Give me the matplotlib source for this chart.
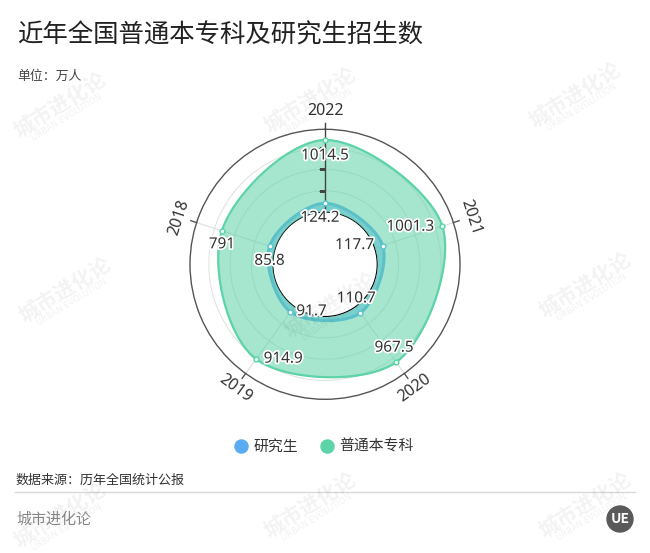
import numpy as np
import matplotlib.pyplot as plt
import matplotlib.patheffects as pe
from matplotlib.lines import Line2D
from matplotlib.patches import Circle

plt.rcParams['font.family'] = ['Noto Sans CJK SC', 'DejaVu Sans']

# 数据：从顶部开始顺时针
years = ['2022', '2021', '2020', '2019', '2018']
grad = [124.2, 117.7, 110.7, 91.7, 85.8]
undergrad = [1014.5, 1001.3, 967.5, 914.9, 791]
series_names = ['研究生', '普通本专科']

blue = '#5aabf0'
green = '#5dd3a8'
rmax = 1165
origin = 734.5          # 内圈空心
label_r = 1418

# 数值标签的偏移（像素）
off_green = [(0, -16), (-32, -1), (-2, 14), (27, 0), (0, -14)]
off_blue = [(-5, -15), (-28, 0), (-4, 14), (21, 0), (0, -15)]


def smooth_closed(theta, r, n=80):
    # 闭合 Catmull-Rom 平滑（在直角坐标里做）
    rd = np.asarray(r, dtype=float) + origin
    pts = np.column_stack([rd * np.cos(theta), rd * np.sin(theta)])
    k = len(pts)
    t = np.linspace(0, 1, n, endpoint=False)[:, None]
    segs = []
    for i in range(k):
        p0, p1, p2, p3 = pts[(i - 1) % k], pts[i], pts[(i + 1) % k], pts[(i + 2) % k]
        segs.append(0.5 * (2 * p1 + (-p0 + p2) * t
                           + (2 * p0 - 5 * p1 + 4 * p2 - p3) * t ** 2
                           + (-p0 + 3 * p1 - 3 * p2 + p3) * t ** 3))
    out = np.vstack(segs + [pts[:1]])
    th = np.unwrap(np.arctan2(out[:, 1], out[:, 0]))
    return th, np.hypot(out[:, 0], out[:, 1]) - origin


fig = plt.figure(figsize=(6.5, 5.53), dpi=100)
ax = fig.add_axes([190 / 650, 153.7 / 553, 270 / 650, 270 / 553], polar=True)
ax.set_theta_zero_location('N')
ax.set_theta_direction(-1)
ax.set_ylim(0, rmax)
ax.set_rorigin(-origin)
ax.set_xticks([])
ax.set_yticks([300, 600, 900])
ax.set_yticklabels([])
ax.tick_params(axis='y', length=0)
ax.grid(False)
ax.spines['polar'].set_color('#555555')
ax.spines['polar'].set_linewidth(1.0)
if 'inner' in ax.spines:
    ax.spines['inner'].set_visible(False)

theta = np.arange(len(years)) * 2 * np.pi / len(years)

# 网格
circ = np.linspace(0, 2 * np.pi, 400)
for g in [300, 600, 900]:
    ax.plot(circ, np.full_like(circ, g), color='#e3e3e3', lw=0.8, zorder=1)
for th in theta[1:]:
    ax.plot([th, th], [0, rmax], color='#dedede', lw=0.8, zorder=1)
    ax.plot([th, th], [rmax, 1250], color='#555555', lw=1, zorder=1, clip_on=False)

# 研究生
th_b, r_b = smooth_closed(theta, grad)
ax.fill_between(th_b, 0, r_b, color=blue, alpha=0.6, lw=0, zorder=2)
ax.plot(th_b, r_b, color=blue, lw=2.2, zorder=2.5)

# 普通本专科
th_g, r_g = smooth_closed(theta, undergrad)
ax.fill_between(th_g, 0, r_g, color=green, alpha=0.55, lw=0, zorder=3)
ax.plot(th_g, r_g, color=green, lw=1.6, zorder=3.5)

ax.plot(theta, grad, ls='', marker='o', ms=3.5, mfc='white', mec='#5cc4cf', mew=1, zorder=8)
ax.plot(theta, undergrad, ls='', marker='o', ms=3.5, mfc='#e6fbf3', mec=green, mew=1, zorder=8)

# 径向轴
ax.plot([0, 0], [0, 1250], color='#444444', lw=1, zorder=5, clip_on=False)
ax.plot([0, 0, 0], [300, 600, 900], ls='', marker=0, ms=4, mew=0.8, color='#444444', zorder=5)

# 年份标签
for i, (th, y) in enumerate(zip(theta, years)):
    rot = ((-np.degrees(th) + 90) % 180) - 90
    ax.text(th, label_r, y, rotation=rot, rotation_mode='anchor', ha='center', va='center',
            fontsize=11.5, color='#333333', family=['Noto Sans', 'DejaVu Sans'], clip_on=False)

halo = [pe.withStroke(linewidth=2.5, foreground='white')]
for vals, offs in [(grad, off_blue), (undergrad, off_green)]:
    for th, v, o in zip(theta, vals, offs):
        ax.annotate(f'{v:g}', (th, v), xytext=o, textcoords='offset pixels', ha='center',
                    va='center', fontsize=11, color='#333333', family=['Noto Sans', 'DejaVu Sans'],
                    path_effects=halo, zorder=10, annotation_clip=False)

# 标题
fig.text(17 / 650, 1 - 35.5 / 553, '近年全国普通本专科及研究生招生数', fontsize=18.3,
         color='#222222', va='center', ha='left')
fig.text(17 / 650, 1 - 76.5 / 553, '单位：万人', fontsize=9.3, color='#444444', va='center')

# 图例
for x, name, c in [(241, series_names[0], blue), (326.7, series_names[1], green)]:
    fig.add_artist(Line2D([x / 650], [1 - 446.3 / 553], marker='o', ms=9.4, color=c,
                          ls='', transform=fig.transFigure))
    fig.text((x + 13) / 650, 1 - 446.3 / 553, name, fontsize=10.7, color='#333333',
             va='center', ha='left')

# 底部
fig.text(16 / 650, 1 - 480 / 553, '数据来源：历年全国统计公报', fontsize=9.4, color='#333333',
         va='center')
fig.add_artist(Line2D([15 / 650, 635 / 650], [1 - 492 / 553] * 2, color='#d9d9d9', lw=1,
                      transform=fig.transFigure))
fig.text(16 / 650, 1 - 519 / 553, '城市进化论', fontsize=10.8, color='#888888', va='center')
fig.add_artist(Circle((6.20, 0.34), 0.13, color='#5a5a5a', transform=fig.dpi_scale_trans))
fig.text(620 / 650, 1 - 519 / 553, 'UE', fontsize=10, color='white', weight='bold',
         ha='center', va='center')

# 水印
wm_pos = [(60, 105), (310, 100), (575, 95), (65, 290), (330, 305), (585, 285),
          (60, 515), (310, 505), (585, 505)]
for x, y in wm_pos:
    fig.text(x / 650, 1 - y / 553, '城市进化论', fontsize=15, weight='bold', color='#000000',
             alpha=0.05, rotation=32, ha='center', va='center')
    fig.text((x + 7) / 650, 1 - (y + 12) / 553, 'URBAN EVOLUTION', fontsize=6, color='#000000',
             alpha=0.06, rotation=32, ha='center', va='center', family=['DejaVu Sans'])

fig.savefig('out.png', dpi=100)
